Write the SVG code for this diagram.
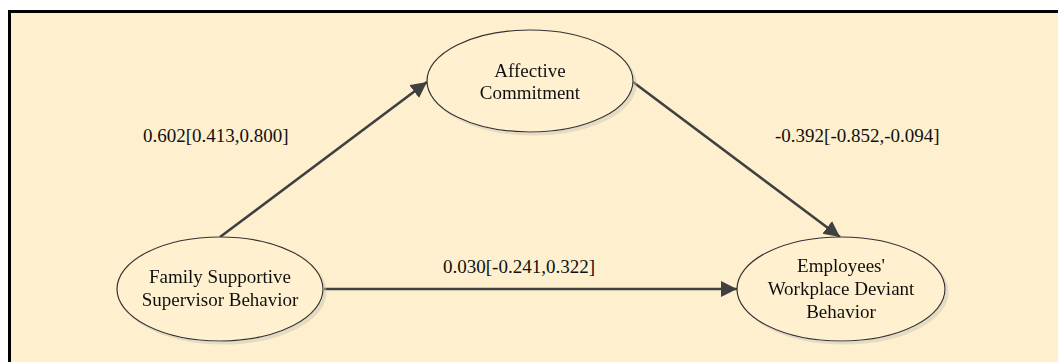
<svg xmlns="http://www.w3.org/2000/svg" width="1058" height="362" viewBox="0 0 1058 362">
  <style>
    .node ellipse { fill: #FFF1CF; stroke: #333333; stroke-width: 1.2; }
    .node text, .label { font-family: "Liberation Serif", "Times New Roman", serif; font-size: 19px; fill: #111111; }
    .node text { text-anchor: middle; }
    .edge { stroke: #404040; stroke-width: 2.6; fill: none; marker-end: url(#arrow); }
  </style>
  <defs>
    <marker id="arrow" markerUnits="userSpaceOnUse" markerWidth="18" markerHeight="18" refX="16" refY="8" orient="auto">
      <path d="M0,0 L16,8 L0,16 Z" fill="#404040"/>
    </marker>
    <filter id="shadow" x="-10%" y="-10%" width="130%" height="130%">
      <feDropShadow dx="3" dy="3" stdDeviation="0.6" flood-color="#c8c2b4" flood-opacity="0.45"/>
    </filter>
  </defs>

  <rect x="0" y="0" width="1058" height="362" fill="#FFFFFF"/>
  <rect x="8" y="10" width="1050" height="352" fill="#FEF0CE"/>
  <path d="M9.5,362 V11.5 H1058" fill="none" stroke="#000000" stroke-width="3"/>

  <g id="connectors">
    <line class="edge" x1="220" y1="237" x2="427" y2="82"/>
    <line class="edge" x1="633" y1="82" x2="840" y2="237"/>
    <line class="edge" x1="324" y1="289" x2="737" y2="289"/>
    <text class="label" x="143" y="142">0.602[0.413,0.800]</text>
    <text class="label" x="443" y="273">0.030[-0.241,0.322]</text>
    <text class="label" x="775" y="142">-0.392[-0.852,-0.094]</text>
  </g>

  <g id="node-affective-commitment" class="node" filter="url(#shadow)">
    <ellipse cx="530" cy="81" rx="103" ry="51"/>
    <text x="530" y="77">Affective</text>
    <text x="530" y="99">Commitment</text>
  </g>

  <g id="node-fssb" class="node" filter="url(#shadow)">
    <ellipse cx="220" cy="289" rx="103" ry="52"/>
    <text x="220" y="283">Family Supportive</text>
    <text x="220" y="306">Supervisor Behavior</text>
  </g>

  <g id="node-ewdb" class="node" filter="url(#shadow)">
    <ellipse cx="841" cy="289" rx="104" ry="52"/>
    <text x="841" y="272">Employees'</text>
    <text x="841" y="295">Workplace Deviant</text>
    <text x="841" y="318">Behavior</text>
  </g>
</svg>
